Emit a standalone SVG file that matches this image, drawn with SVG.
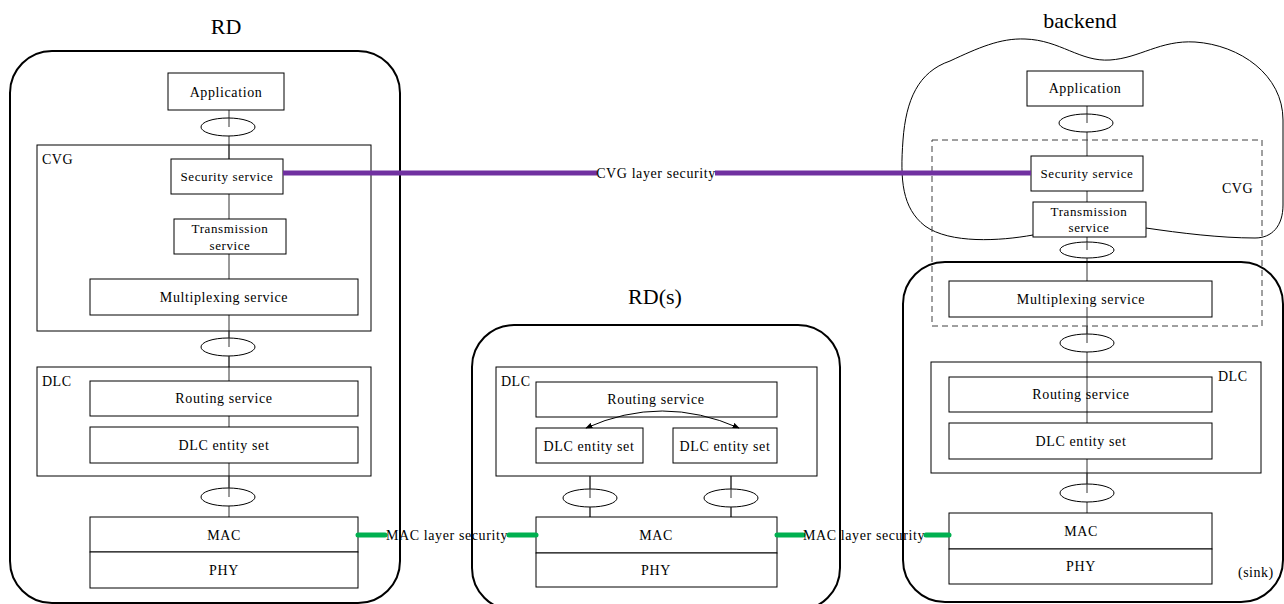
<svg xmlns="http://www.w3.org/2000/svg" width="1284" height="604" viewBox="0 0 1284 604">
<style>
  text { font-family: "Liberation Serif", "DejaVu Serif", serif; fill: #000; }
  .lbl { font-size: 14px; text-anchor: middle; dominant-baseline: central; letter-spacing: 0.6px; }
  .small { font-size: 13px; text-anchor: middle; dominant-baseline: central; letter-spacing: 0.6px; }
  .tag { font-size: 14px; dominant-baseline: central; letter-spacing: 0.5px; }
  .title { font-size: 22px; text-anchor: middle; dominant-baseline: central; }
  .box { fill: #fff; stroke: #000; stroke-width: 1; }
  .frame { fill: none; stroke: #000; stroke-width: 1; }
  .outer { fill: none; stroke: #000; stroke-width: 2; }
  .dash { fill: none; stroke: #404040; stroke-width: 1; stroke-dasharray: 6 4; }
  .sap { fill: #fff; stroke: #000; stroke-width: 1; }
  .wire { stroke: #333; stroke-width: 1; fill: none; }
  .purple { stroke: #7030A0; stroke-width: 5; fill: none; }
  .green { stroke: #00B050; stroke-width: 5; fill: none; stroke-linecap: round; }
</style>
<defs>
  <marker id="ah" viewBox="0 0 10 10" refX="9" refY="5" markerWidth="7" markerHeight="7" orient="auto-start-reverse">
    <path d="M0,1 L10,5 L0,9 z" fill="#000"/>
  </marker>
</defs>

<!-- titles -->
<text class="title" x="226" y="26">RD</text>
<text class="title" x="655" y="296">RD(s)</text>
<text class="title" x="1080" y="20">backend</text>

<!-- connectors (wires behind boxes) -->
<g id="connectors">
  <line class="wire" x1="229" y1="110" x2="229" y2="159"/>
  <line class="wire" x1="229" y1="194" x2="229" y2="219"/>
  <line class="wire" x1="229" y1="254" x2="229" y2="279"/>
  <line class="wire" x1="229" y1="315" x2="229" y2="381"/>
  <line class="wire" x1="229" y1="416" x2="229" y2="427"/>
  <line class="wire" x1="229" y1="463" x2="229" y2="517"/>
  <line class="wire" x1="590" y1="476" x2="590" y2="517"/>
  <line class="wire" x1="731" y1="476" x2="731" y2="517"/>
  <line class="wire" x1="1087" y1="106" x2="1087" y2="156"/>
  <line class="wire" x1="1087" y1="191" x2="1087" y2="202"/>
  <line class="wire" x1="1087" y1="237" x2="1087" y2="281"/>
  <line class="wire" x1="1087" y1="459" x2="1087" y2="513"/>
</g>

<!-- RD node -->
<g id="rd">
  <rect class="outer" x="10" y="51" width="390" height="552" rx="42"/>
  <g id="rd-app"><rect class="box" x="168" y="73" width="116" height="37"/><text class="lbl" x="226" y="92">Application</text></g>
  <ellipse class="sap" cx="228" cy="127" rx="27" ry="9"/>
  <line class="wire" x1="229" y1="118" x2="229" y2="127"/>
  <g id="rd-cvg">
    <rect class="frame" x="37" y="145" width="334" height="186"/>
    <text class="tag" x="42" y="159">CVG</text>
    <line class="wire" x1="229" y1="145" x2="229" y2="159"/>
    <g id="rd-sec"><rect class="box" x="171" y="159" width="112" height="35"/><text class="small" x="227" y="176">Security service</text></g>
    <g id="rd-trans"><rect class="box" x="174" y="219" width="112" height="35"/><text class="small" x="230" y="228">Transmission</text><text class="small" x="230" y="245">service</text></g>
    <g id="rd-mux"><rect class="box" x="90" y="279" width="268" height="36"/><text class="lbl" x="224" y="297">Multiplexing service</text></g>
  </g>
  <ellipse class="sap" cx="228" cy="347" rx="27" ry="9"/>
  <line class="wire" x1="229" y1="331" x2="229" y2="347"/>
  <line class="wire" x1="229" y1="356" x2="229" y2="367"/>
  <g id="rd-dlc">
    <rect class="frame" x="37" y="367" width="334" height="109"/>
    <text class="tag" x="42" y="381">DLC</text>
    <g id="rd-routing"><rect class="box" x="90" y="381" width="268" height="35"/><text class="lbl" x="224" y="398">Routing service</text></g>
    <g id="rd-entity"><rect class="box" x="90" y="427" width="268" height="36"/><text class="lbl" x="224" y="445">DLC entity set</text></g>
  </g>
  <ellipse class="sap" cx="228" cy="497" rx="27" ry="9"/>
  <line class="wire" x1="229" y1="476" x2="229" y2="497"/>
  <g id="rd-mac"><rect class="box" x="90" y="517" width="268" height="35"/><text class="lbl" x="224" y="535">MAC</text></g>
  <g id="rd-phy"><rect class="box" x="90" y="552" width="268" height="36"/><text class="lbl" x="224" y="570">PHY</text></g>
</g>

<!-- RD(s) node -->
<g id="rds">
  <rect class="outer" x="472" y="325" width="368" height="285" rx="42"/>
  <g id="rds-dlc">
    <rect class="frame" x="496" y="367" width="321" height="109"/>
    <text class="tag" x="501" y="381">DLC</text>
    <g id="rds-routing"><rect class="box" x="536" y="382" width="241" height="35"/><text class="lbl" x="656" y="399">Routing service</text></g>
    <g id="rds-entity1"><rect class="box" x="536" y="428" width="107" height="35"/><text class="lbl" x="589" y="446">DLC entity set</text></g>
    <g id="rds-entity2"><rect class="box" x="673" y="428" width="104" height="35"/><text class="lbl" x="725" y="446">DLC entity set</text></g>
    <path d="M586,428 Q662,394 739,428" fill="none" stroke="#000" stroke-width="1" marker-start="url(#ah)" marker-end="url(#ah)"/>
  </g>
  <ellipse class="sap" cx="590" cy="498" rx="27" ry="9"/>
  <line class="wire" x1="590" y1="476" x2="590" y2="498"/>
  <ellipse class="sap" cx="731" cy="498" rx="27" ry="9"/>
  <line class="wire" x1="731" y1="476" x2="731" y2="498"/>
  <line class="wire" x1="590" y1="507" x2="590" y2="517"/>
  <line class="wire" x1="731" y1="507" x2="731" y2="517"/>
  <g id="rds-mac"><rect class="box" x="536" y="517" width="241" height="36"/><text class="lbl" x="656" y="535">MAC</text></g>
  <g id="rds-phy"><rect class="box" x="536" y="553" width="241" height="34"/><text class="lbl" x="656" y="570">PHY</text></g>
</g>

<!-- backend / sink node -->
<g id="backend">
  <path d="M1033,235 C1000,241 950,244 925,226 C902,208 900,180 903,140 C906,100 918,72 950,61 C978,48 1000,38 1025,39 C1060,40 1080,62 1110,60 C1140,58 1160,40 1195,42 C1240,45 1283,75 1283,120 L1283,205 C1283,226 1272,238 1255,238 C1220,238 1180,233 1146,228" fill="none" stroke="#000" stroke-width="1"/>
  <g id="be-app"><rect class="box" x="1027" y="71" width="116" height="35"/><text class="lbl" x="1085" y="88">Application</text></g>
  <ellipse class="sap" cx="1086" cy="123" rx="27" ry="9"/>
  <line class="wire" x1="1087" y1="114" x2="1087" y2="123"/>
  <g id="be-sec"><rect class="box" x="1031" y="156" width="112" height="35"/><text class="small" x="1087" y="173">Security service</text></g>
  <g id="be-trans"><rect class="box" x="1033" y="202" width="113" height="35"/><text class="small" x="1089" y="211">Transmission</text><text class="small" x="1089" y="227">service</text></g>
  <ellipse class="sap" cx="1087" cy="250" rx="27" ry="8"/>
  <line class="wire" x1="1087" y1="242" x2="1087" y2="250"/>
  <g id="sink">
    <rect class="outer" x="903" y="262" width="380" height="340" rx="42"/>
    <g id="be-mux"><rect class="box" x="949" y="281" width="263" height="36"/><text class="lbl" x="1081" y="299">Multiplexing service</text></g>
    <line class="wire" x1="1087" y1="307" x2="1087" y2="423"/>
    <ellipse class="sap" cx="1087" cy="343" rx="27" ry="9"/>
    <line class="wire" x1="1087" y1="326" x2="1087" y2="343"/>
    <g id="be-dlc">
      <rect class="frame" x="931" y="362" width="330" height="111"/>
      <text class="tag" x="1218" y="376">DLC</text>
      <g id="be-routing"><rect x="949" y="377" width="263" height="35" fill="none" stroke="#000" stroke-width="1"/><text class="lbl" x="1081" y="394">Routing service</text></g>
      <g id="be-entity"><rect class="box" x="949" y="423" width="263" height="36"/><text class="lbl" x="1081" y="441">DLC entity set</text></g>
    </g>
    <ellipse class="sap" cx="1087" cy="493" rx="27" ry="9"/>
    <line class="wire" x1="1087" y1="473" x2="1087" y2="493"/>
    <g id="be-mac"><rect class="box" x="949" y="513" width="263" height="36"/><text class="lbl" x="1081" y="531">MAC</text></g>
    <g id="be-phy"><rect class="box" x="949" y="549" width="263" height="35"/><text class="lbl" x="1081" y="566">PHY</text></g>
    <text class="tag" x="1238" y="572">(sink)</text>
  </g>
  <g id="be-cvg">
    <rect class="dash" x="932" y="140" width="330" height="186"/>
    <text class="tag" x="1222" y="188">CVG</text>
  </g>
</g>

<!-- security links -->
<g id="security-links">
  <line class="purple" x1="283" y1="173" x2="597" y2="173"/>
  <line class="purple" x1="715" y1="173" x2="1031" y2="173"/>
  <text class="lbl" x="656" y="173">CVG layer security</text>
  <line class="green" x1="358" y1="535" x2="385" y2="535"/>
  <text class="lbl" x="447" y="535">MAC layer security</text>
  <line class="green" x1="509" y1="535" x2="536" y2="535"/>
  <line class="green" x1="777" y1="535" x2="803" y2="535"/>
  <text class="lbl" x="864" y="535">MAC layer security</text>
  <line class="green" x1="926" y1="535" x2="949" y2="535"/>
</g>
</svg>
